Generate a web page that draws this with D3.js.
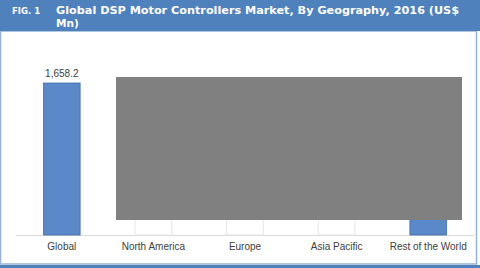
<!DOCTYPE html>
<html>
<head>
<meta charset="utf-8">
<script src="https://cdn.jsdelivr.net/npm/d3@7"></script>
<style>
  body { margin: 0; background: #fff; }
  svg { display: block; }
  .cat { font-family: "Liberation Sans", Arial, sans-serif; font-size: 10px; fill: #404040; }
  .val { font-family: "Liberation Sans", Arial, sans-serif; font-size: 10px; fill: #404040; }
</style>
</head>
<body>
<div id="chart"></div>
<script>
// data: waterfall of the global total by region (region values are hidden in the source)
var categories = ["Global", "North America", "Europe", "Asia Pacific", "Rest of the World"];
var values = [1658.2, 580.0, 450.0, 420.0, 208.2];
var kinds = ["total", "step", "step", "step", "last"];

// core settings
var cfg = {
    w: 480, h: 268,
    band: 31,          // height of title band
    plot: [70, 16, 235, 474], // top, left, bottom, right
    blue: "#4f81bd",
    edge: "#95b3d7"
};

var svg = d3.select("#chart").append("svg")
        .attr("width", cfg.w).attr("height", cfg.h);

// frame
svg.append("rect").attr("x", 0).attr("y", 0).attr("width", cfg.w).attr("height", cfg.h)
        .attr("fill", "#fff");
svg.append("rect").attr("x", 0.5).attr("y", cfg.band).attr("width", 476).attr("height", 233)
        .attr("fill", "none").attr("stroke", cfg.edge).attr("stroke-width", 1.5);
svg.append("rect").attr("x", 0).attr("y", 265).attr("width", cfg.w).attr("height", 3)
        .attr("fill", cfg.blue);

// title band
svg.append("rect").attr("x", 0).attr("y", 0).attr("width", cfg.w).attr("height", cfg.band)
        .attr("fill", cfg.blue);
svg.append("text").text("FIG. 1")
        .attr("x", 12).attr("y", 14)
        .attr("font-family", "Verdana, 'DejaVu Sans', sans-serif")
        .attr("font-size", "8.5px").attr("font-weight", "bold").attr("fill", "#fff");
var title = svg.append("text")
        .attr("font-family", "Verdana, 'DejaVu Sans', sans-serif")
        .attr("font-size", "10.5px").attr("font-weight", "bold").attr("fill", "#fff");
title.append("tspan").attr("x", 56).attr("y", 14)
        .attr("textLength", 403).attr("lengthAdjust", "spacingAndGlyphs")
        .text("Global DSP Motor Controllers Market, By Geography, 2016 (US$");
title.append("tspan").attr("x", 56).attr("y", 27).text("Mn)");

// scales
var x = d3.scaleBand().domain(categories)
        .range([cfg.plot[1], cfg.plot[3]]).paddingInner(0.6).paddingOuter(0.3);
var y = d3.scaleLinear().domain([0, 1800]).range([cfg.plot[2], cfg.plot[0]]);

// compute waterfall bases
var rows = [];
var level = 0;
categories.forEach(function (c, i) {
    var base, top;
    if (kinds[i] === "total") { base = 0; top = values[i]; level = values[i]; }
    else if (kinds[i] === "step") { top = level; base = level - values[i]; level = base; }
    else { base = 0; top = values[i]; }
    rows.push({name: c, kind: kinds[i], value: values[i], base: base, top: top});
});

// x axis line
svg.append("line").attr("x1", cfg.plot[1]).attr("x2", cfg.plot[3])
        .attr("y1", cfg.plot[2] + 0.5).attr("y2", cfg.plot[2] + 0.5)
        .attr("stroke", "#d9d9d9");

// invisible (white) base parts
svg.selectAll(".base").data(rows.filter(function (d) { return d.base > 0; }))
        .enter().append("rect")
        .attr("x", function (d) { return x(d.name); })
        .attr("width", x.bandwidth())
        .attr("y", function (d) { return y(d.base); })
        .attr("height", function (d) { return y(0) - y(d.base); })
        .attr("fill", "#fff").attr("stroke", "#e6e6e6");

// blue segments
svg.selectAll(".bar").data(rows).enter().append("rect")
        .attr("x", function (d) { return x(d.name); })
        .attr("width", x.bandwidth())
        .attr("y", function (d) { return y(d.top); })
        .attr("height", function (d) { return y(d.base) - y(d.top); })
        .attr("fill", "#5a88c9").attr("stroke", "#3f6ea8").attr("stroke-width", 0.8);

// value labels: full bars above the bar, regional steps inside their segment
svg.selectAll(".val").data(rows).enter().append("text")
        .attr("class", "val").attr("text-anchor", "middle")
        .attr("x", function (d) { return x(d.name) + x.bandwidth() / 2; })
        .attr("y", function (d) {
            return d.kind === "step" ? (y(d.top) + y(d.base)) / 2 + 3 : y(d.top) - 6;
        })
        .text(function (d) { return d3.format(",.1f")(d.value); });

// category labels
svg.selectAll(".cat").data(categories).enter().append("text")
        .attr("class", "cat").attr("text-anchor", "middle")
        .attr("x", function (d) { return x(d) + x.bandwidth() / 2; })
        .attr("y", 250)
        .text(function (d) { return d; });

// grey box covering the regional values
svg.append("rect").attr("x", 116).attr("y", 77).attr("width", 346).attr("height", 143)
        .attr("fill", "#808080");
</script>
</body>
</html>
